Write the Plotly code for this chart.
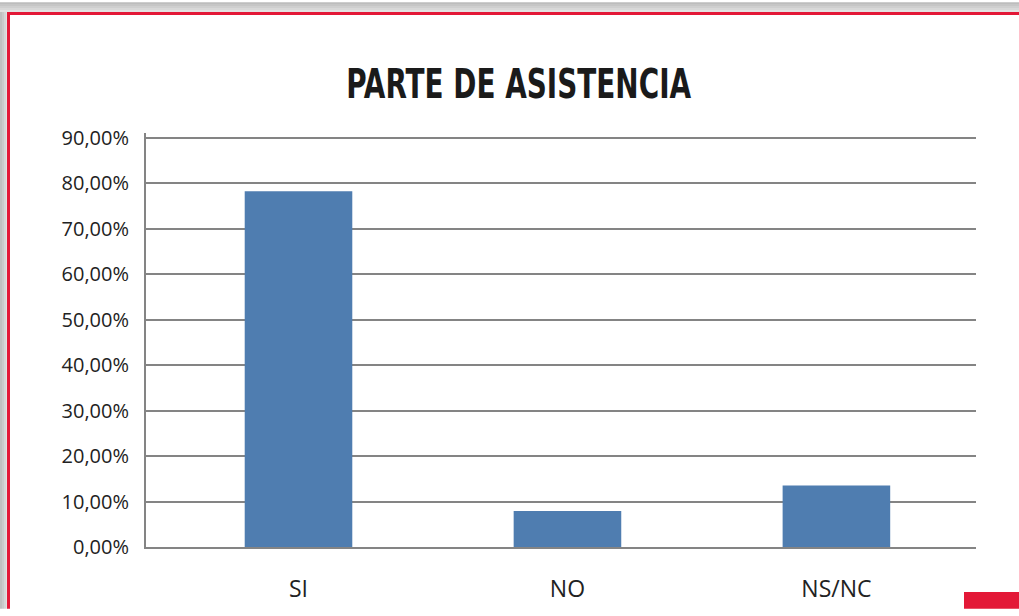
import plotly.graph_objects as go

categories = ["SI", "NO", "NS/NC"]
values = [0.782, 0.079, 0.135]
tick_vals = [0, 0.1, 0.2, 0.3, 0.4, 0.5, 0.6, 0.7, 0.8, 0.9]

W, H = 1019, 616
Y_TOP = 0.91
L, R, B = 146, 976, 553.3           # plot area in pixels
STEP = 46.2                          # pixels per 10 %
T = B - STEP * Y_TOP * 10


def px(x):
    return (x - L) / (R - L)


def py(y):
    return (B - y) / (B - T)


grid = "#848484"
red = "#e31837"

fig = go.Figure()
fig.add_trace(go.Bar(
    x=[0, 1, 2],
    y=values,
    width=0.4,
    marker=dict(color="#4f7db0", line=dict(width=0)),
    hoverinfo="skip",
))

shapes = []
# grey shadow on top and left of the frame
for i, c in enumerate(["#bdbdbd", "#c6c6c6", "#cfcfcf", "#d8d8d8", "#e2e2e2"]):
    shapes.append(dict(type="rect", xref="paper", yref="paper",
                       x0=px(0), x1=px(W), y0=py(i * 2), y1=py(i * 2 + 2),
                       fillcolor=c, line=dict(width=0), layer="below"))
for i, c in enumerate(["#c0c0c0", "#cacaca", "#d6d6d6", "#e2e2e2"]):
    shapes.append(dict(type="rect", xref="paper", yref="paper",
                       x0=px(i * 2), x1=px(i * 2 + 2), y0=py(10), y1=py(H),
                       fillcolor=c, line=dict(width=0), layer="below"))
# red frame lines
shapes.append(dict(type="rect", xref="paper", yref="paper",
                   x0=px(7), x1=px(W), y0=py(10), y1=py(13),
                   fillcolor=red, line=dict(width=0)))
shapes.append(dict(type="rect", xref="paper", yref="paper",
                   x0=px(7), x1=px(10), y0=py(10), y1=py(H),
                   fillcolor=red, line=dict(width=0)))
# red block bottom right
shapes.append(dict(type="rect", xref="paper", yref="paper",
                   x0=px(964), x1=px(W), y0=py(599), y1=py(H),
                   fillcolor=red, line=dict(width=0)))

fig.update_layout(
    width=W, height=H,
    margin=dict(l=L, r=W - R, t=T, b=H - B, pad=0),
    paper_bgcolor="white",
    plot_bgcolor="white",
    separators=",.",
    showlegend=False,
    shapes=shapes,
    title=dict(
        text="<b>PARTE DE ASISTENCIA</b>",
        x=0.509, xanchor="center",
        y=1 - 80 / H, yanchor="middle",
        font=dict(family="DejaVu Sans Condensed, Liberation Sans", size=31, color="#1a1a1a"),
    ),
    font=dict(family="Open Sans, Noto Sans, sans-serif", size=20, color="#222222"),
    xaxis=dict(
        range=[-0.567, 2.519],
        tickvals=[0, 1, 2],
        ticktext=categories,
        tickfont=dict(size=23),
        showgrid=False,
        zeroline=False,
        showline=True, linecolor=grid, linewidth=2,
        ticks="", ticklabelstandoff=20,
        fixedrange=True,
    ),
    yaxis=dict(
        range=[0, Y_TOP],
        tickvals=tick_vals,
        tickformat=".2%",
        showgrid=True, gridcolor=grid, gridwidth=2,
        zeroline=False,
        showline=True, linecolor=grid, linewidth=2,
        ticks="", ticklabelstandoff=11,
        fixedrange=True,
    ),
)

# stretch the title vertically so it looks like the condensed heavy face
post = """
document.body.style.margin = '0';
var gd = document.getElementById('{plot_id}');
function tallTitle() {
  var t = gd.querySelector('.gtitle');
  if (!t) return;
  t.removeAttribute('transform');
  var cy = parseFloat(t.getAttribute('y')) - 0.36 * 31;
  t.setAttribute('transform', 'translate(0,' + cy + ') scale(1,1.32) translate(0,' + (-cy) + ')');
}
tallTitle();
gd.on('plotly_afterplot', tallTitle);
"""

fig.write_html("out.html", config={"displayModeBar": False}, post_script=post)
